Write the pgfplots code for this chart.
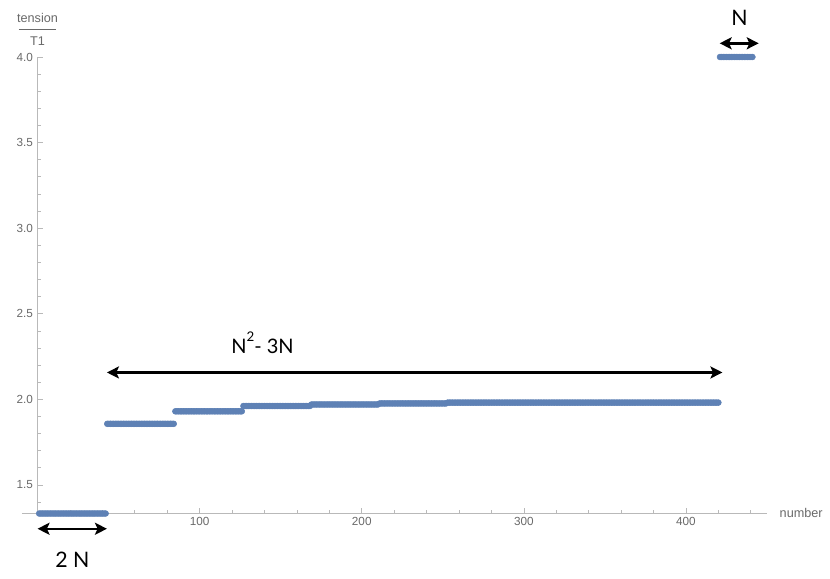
\documentclass[border=0pt]{standalone}
\usepackage{pgfplots}
\pgfplotsset{compat=1.18}
\usepackage{fontspec}
\setmainfont{Liberation Sans}
\newfontfamily\annfont{Lato}
\usetikzlibrary{arrows.meta}

\definecolor{mmablue}{RGB}{94,129,181}
\definecolor{axgray}{RGB}{185,185,185}
\definecolor{lblgray}{RGB}{105,105,105}

\pgfplotsset{dots/.style={only marks, mark=*, mark size=2.2pt, color=mmablue,
    mark options={draw=mmablue, fill=mmablue}}}
\tikzset{dbl/.style={line width=1.8pt,
    {Stealth[length=9pt,width=9pt,inset=2pt]}-{Stealth[length=9pt,width=9pt,inset=2pt]}}}

\begin{document}
\begin{tikzpicture}
\begin{axis}[
    scale only axis,
    width=558.75pt, height=342pt,
    xmin=-9.6, xmax=450,
    ymin=1.336, ymax=4.0,
    axis x line=bottom,
    axis y line=middle,
    axis line style={-, axgray, line width=0.6pt},
    inner axis line style={-},
    tick align=inside,
    tick style={axgray, line width=0.5pt},
    major tick length=4pt,
    minor tick length=2.5pt,
    xtick={100,200,300,400},
    minor xtick={20,40,...,440},
    ytick={1.5,2.0,...,4.0},
    minor ytick={1.4,1.5,...,4.0},
    yticklabel style={/pgf/number format/.cd, fixed, fixed zerofill, precision=1},
    /pgf/number format/assume math mode=true,
    ticklabel style={font=\fontsize{8.8}{10}\selectfont, text=lblgray},
    clip=false,
]
% 2N points at 4/3
\addplot[dots] coordinates {
(1,1.333) (2,1.333) (3,1.333) (4,1.333) (5,1.333) (6,1.333) (7,1.333) (8,1.333) (9,1.333) (10,1.333)
(11,1.333) (12,1.333) (13,1.333) (14,1.333) (15,1.333) (16,1.333) (17,1.333) (18,1.333) (19,1.333) (20,1.333)
(21,1.333) (22,1.333) (23,1.333) (24,1.333) (25,1.333) (26,1.333) (27,1.333) (28,1.333) (29,1.333) (30,1.333)
(31,1.333) (32,1.333) (33,1.333) (34,1.333) (35,1.333) (36,1.333) (37,1.333) (38,1.333) (39,1.333) (40,1.333)
(41,1.333) (42,1.333)
};
% N^2 - 3N points, stepping up towards 2
\addplot[dots] coordinates {
(43,1.857) (44,1.857) (45,1.857) (46,1.857) (47,1.857) (48,1.857) (49,1.857) (50,1.857)
(51,1.857) (52,1.857) (53,1.857) (54,1.857) (55,1.857) (56,1.857) (57,1.857) (58,1.857) (59,1.857) (60,1.857)
(61,1.857) (62,1.857) (63,1.857) (64,1.857) (65,1.857) (66,1.857) (67,1.857) (68,1.857) (69,1.857) (70,1.857)
(71,1.857) (72,1.857) (73,1.857) (74,1.857) (75,1.857) (76,1.857) (77,1.857) (78,1.857) (79,1.857) (80,1.857)
(81,1.857) (82,1.857) (83,1.857) (84,1.857)
};
\addplot[dots] coordinates {
(85,1.930) (86,1.930) (87,1.930) (88,1.930) (89,1.930) (90,1.930)
(91,1.930) (92,1.930) (93,1.930) (94,1.930) (95,1.930) (96,1.930) (97,1.930) (98,1.930) (99,1.930) (100,1.930)
(101,1.930) (102,1.930) (103,1.930) (104,1.930) (105,1.930) (106,1.930) (107,1.930) (108,1.930) (109,1.930) (110,1.930)
(111,1.930) (112,1.930) (113,1.930) (114,1.930) (115,1.930) (116,1.930) (117,1.930) (118,1.930) (119,1.930) (120,1.930)
(121,1.930) (122,1.930) (123,1.930) (124,1.930) (125,1.930) (126,1.930)
};
\addplot[dots] coordinates {
(127,1.961) (128,1.961) (129,1.961) (130,1.961)
(131,1.961) (132,1.961) (133,1.961) (134,1.961) (135,1.961) (136,1.961) (137,1.961) (138,1.961) (139,1.961) (140,1.961)
(141,1.961) (142,1.961) (143,1.961) (144,1.961) (145,1.961) (146,1.961) (147,1.961) (148,1.961) (149,1.961) (150,1.961)
(151,1.961) (152,1.961) (153,1.961) (154,1.961) (155,1.961) (156,1.961) (157,1.961) (158,1.961) (159,1.961) (160,1.961)
(161,1.961) (162,1.961) (163,1.961) (164,1.961) (165,1.961) (166,1.961) (167,1.961) (168,1.961)
};
\addplot[dots] coordinates {
(169,1.970) (170,1.970)
(171,1.970) (172,1.970) (173,1.970) (174,1.970) (175,1.970) (176,1.970) (177,1.970) (178,1.970) (179,1.970) (180,1.970)
(181,1.970) (182,1.970) (183,1.970) (184,1.970) (185,1.970) (186,1.970) (187,1.970) (188,1.970) (189,1.970) (190,1.970)
(191,1.970) (192,1.970) (193,1.970) (194,1.970) (195,1.970) (196,1.970) (197,1.970) (198,1.970) (199,1.970) (200,1.970)
(201,1.970) (202,1.970) (203,1.970) (204,1.970) (205,1.970) (206,1.970) (207,1.970) (208,1.970) (209,1.970) (210,1.970)
};
\addplot[dots] coordinates {
(211,1.976) (212,1.976) (213,1.976) (214,1.976) (215,1.976) (216,1.976) (217,1.976) (218,1.976) (219,1.976) (220,1.976)
(221,1.976) (222,1.976) (223,1.976) (224,1.976) (225,1.976) (226,1.976) (227,1.976) (228,1.976) (229,1.976) (230,1.976)
(231,1.976) (232,1.976) (233,1.976) (234,1.976) (235,1.976) (236,1.976) (237,1.976) (238,1.976) (239,1.976) (240,1.976)
(241,1.976) (242,1.976) (243,1.976) (244,1.976) (245,1.976) (246,1.976) (247,1.976) (248,1.976) (249,1.976) (250,1.976)
(251,1.976) (252,1.976)
};
\addplot[dots] coordinates {
(253,1.981) (254,1.981) (255,1.981) (256,1.981) (257,1.981) (258,1.981) (259,1.981) (260,1.981)
(261,1.981) (262,1.981) (263,1.981) (264,1.981) (265,1.981) (266,1.981) (267,1.981) (268,1.981) (269,1.981) (270,1.981)
(271,1.981) (272,1.981) (273,1.981) (274,1.981) (275,1.981) (276,1.981) (277,1.981) (278,1.981) (279,1.981) (280,1.981)
(281,1.981) (282,1.981) (283,1.981) (284,1.981) (285,1.981) (286,1.981) (287,1.981) (288,1.981) (289,1.981) (290,1.981)
(291,1.981) (292,1.981) (293,1.981) (294,1.981) (295,1.981) (296,1.981) (297,1.981) (298,1.981) (299,1.981) (300,1.981)
(301,1.981) (302,1.981) (303,1.981) (304,1.981) (305,1.981) (306,1.981) (307,1.981) (308,1.981) (309,1.981) (310,1.981)
(311,1.981) (312,1.981) (313,1.981) (314,1.981) (315,1.981) (316,1.981) (317,1.981) (318,1.981) (319,1.981) (320,1.981)
(321,1.981) (322,1.981) (323,1.981) (324,1.981) (325,1.981) (326,1.981) (327,1.981) (328,1.981) (329,1.981) (330,1.981)
(331,1.981) (332,1.981) (333,1.981) (334,1.981) (335,1.981) (336,1.981) (337,1.981) (338,1.981) (339,1.981) (340,1.981)
(341,1.981) (342,1.981) (343,1.981) (344,1.981) (345,1.981) (346,1.981) (347,1.981) (348,1.981) (349,1.981) (350,1.981)
(351,1.981) (352,1.981) (353,1.981) (354,1.981) (355,1.981) (356,1.981) (357,1.981) (358,1.981) (359,1.981) (360,1.981)
(361,1.981) (362,1.981) (363,1.981) (364,1.981) (365,1.981) (366,1.981) (367,1.981) (368,1.981) (369,1.981) (370,1.981)
(371,1.981) (372,1.981) (373,1.981) (374,1.981) (375,1.981) (376,1.981) (377,1.981) (378,1.981) (379,1.981) (380,1.981)
(381,1.981) (382,1.981) (383,1.981) (384,1.981) (385,1.981) (386,1.981) (387,1.981) (388,1.981) (389,1.981) (390,1.981)
(391,1.981) (392,1.981) (393,1.981) (394,1.981) (395,1.981) (396,1.981) (397,1.981) (398,1.981) (399,1.981) (400,1.981)
(401,1.981) (402,1.981) (403,1.981) (404,1.981) (405,1.981) (406,1.981) (407,1.981) (408,1.981) (409,1.981) (410,1.981)
(411,1.981) (412,1.981) (413,1.981) (414,1.981) (415,1.981) (416,1.981) (417,1.981) (418,1.981) (419,1.981) (420,1.981)
};
% last N points at 4
\addplot[dots] coordinates {
(421,4.0) (422,4.0) (423,4.0) (424,4.0) (425,4.0) (426,4.0) (427,4.0) (428,4.0) (429,4.0) (430,4.0)
(431,4.0) (432,4.0) (433,4.0) (434,4.0) (435,4.0) (436,4.0) (437,4.0) (438,4.0) (439,4.0) (440,4.0)
(441,4.0)
};

% axis labels
\node[anchor=west, font=\fontsize{9.5}{10}\selectfont, text=lblgray] at (rel axis cs:1,0) {\hspace{6pt}number};
\node[text=lblgray, font=\fontsize{9.5}{10}\selectfont, anchor=base] at (axis cs:0,4.200) {tension};
\draw[lblgray, line width=0.5pt] (axis cs:-11.5,4.163) -- (axis cs:11.5,4.163);
\node[text=lblgray, font=\fontsize{9.5}{10}\selectfont, anchor=base] at (axis cs:0,4.068) {T1};

% annotations
\draw[dbl] (axis cs:0,1.244) -- (axis cs:42.8,1.244);
\node[anchor=base, font=\annfont\fontsize{16}{18}\selectfont] at (axis cs:21.5,1.017) {2 N};
\draw[dbl] (axis cs:42.8,2.157) -- (axis cs:422.5,2.157);
\node[anchor=base, font=\annfont\fontsize{15}{17}\selectfont] at (axis cs:138.8,2.267)
    {N\raisebox{0.62em}{\fontsize{10}{10}\selectfont 2}- 3N};
\draw[dbl] (axis cs:420.8,4.080) -- (axis cs:444.9,4.080);
\node[anchor=base, font=\annfont\fontsize{16}{18}\selectfont] at (axis cs:433,4.186) {N};
\end{axis}
\pgfresetboundingbox
\path (-16.5pt,-48.75pt) rectangle (606pt,384.75pt);
\end{tikzpicture}
\end{document}
